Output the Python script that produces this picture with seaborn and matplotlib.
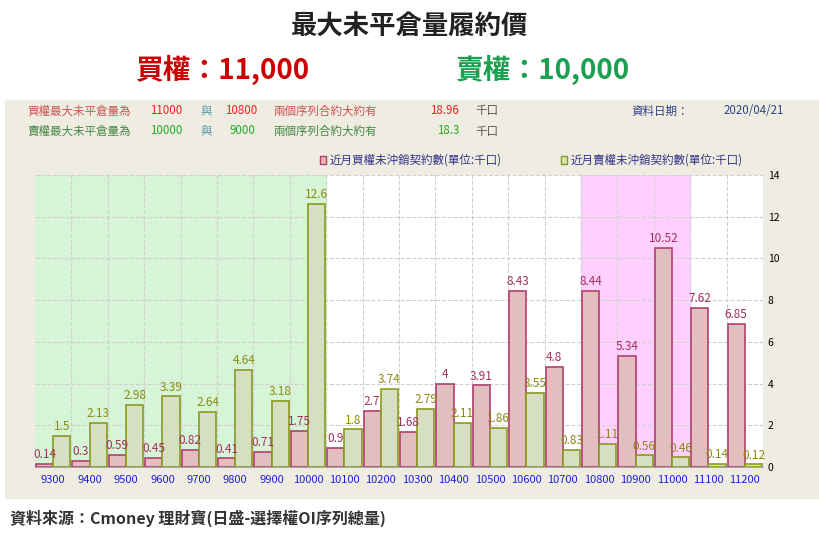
import matplotlib
matplotlib.use("Agg")
import matplotlib.pyplot as plt
import matplotlib.patches as mpatches
import seaborn as sns
import pandas as pd
import numpy as np

plt.rcParams["font.family"] = ["Noto Sans CJK JP", "DejaVu Sans"]

strikes = ["9300","9400","9500","9600","9700","9800","9900","10000","10100","10200",
           "10300","10400","10500","10600","10700","10800","10900","11000","11100","11200"]
calls = [0.14,0.3,0.59,0.45,0.82,0.41,0.71,1.75,0.9,2.7,1.68,4,3.91,8.43,4.8,8.44,5.34,10.52,7.62,6.85]
puts = [1.5,2.13,2.98,3.39,2.64,4.64,3.18,12.6,1.8,3.74,2.79,2.11,1.86,3.55,0.83,1.11,0.56,0.46,0.14,0.12]
call_lbl = "近月買權未沖銷契約數(單位:千口)"
put_lbl = "近月賣權未沖銷契約數(單位:千口)"

df = pd.DataFrame({"strike": strikes * 2, "val": calls + puts,
                   "kind": [call_lbl] * len(strikes) + [put_lbl] * len(strikes)})

fig = plt.figure(figsize=(8.2, 5.41), dpi=100)
bg = mpatches.Rectangle((5/820, 1-498/541), 815/820, 398/541,
                        transform=fig.transFigure, color="#efece2", zorder=-10)
fig.patches.append(bg)
ax = fig.add_axes([35/820, 1-467/541, 728/820, 292/541])
ax.set_facecolor("white")
ax.axvspan(-0.5, 7.5, color="#d6f5d6", zorder=0)
ax.axvspan(14.5, 17.5, color="#ffd0ff", zorder=0)
sns.barplot(data=df, x="strike", y="val", hue="kind", ax=ax,
            palette=["#e8b8b8", "#d8e4bc"], width=0.95, zorder=3, legend=False)
for i, c in enumerate(ax.containers):
    ec = "#b04070" if i == 0 else "#8a9a20"
    for p in c:
        p.set_edgecolor(ec); p.set_linewidth(1.2)
    ax.bar_label(c, labels=[f"{v:g}" for v in (calls if i == 0 else puts)],
                 color="#a03060" if i == 0 else "#8a8a10", fontsize=8.5, padding=2)
ax.set_ylim(0, 14)
ax.set_xlim(-0.5, 19.5)
ax.yaxis.tick_right()
ax.set_yticks(range(0, 15, 2))
ax.tick_params(axis="y", labelsize=7.5, length=0)
ax.tick_params(axis="x", labelsize=8, colors="#2020e0", length=0, pad=6)
ax.set_xlabel(""); ax.set_ylabel("")
ax.grid(axis="y", ls="--", color="#d0d0d0", zorder=1)
for x in np.arange(0.5, 19.5, 1):
    ax.axvline(x, ls="--", color="#d0d0d0", lw=0.8, zorder=1)
for s in ax.spines.values():
    s.set_visible(False)
ax.spines["bottom"].set_visible(True); ax.spines["bottom"].set_color("#aaaaaa")

fig.text(0.5, 1-27/541, "最大未平倉量履約價", ha="center", va="center", fontsize=19, weight="bold", color="#222222")
fig.text(0.165, 1-70/541, "買權：11,000", ha="left", va="center", fontsize=20, weight="bold", color="#cc0000")
fig.text(0.555, 1-70/541, "賣權：10,000", ha="left", va="center", fontsize=20, weight="bold", color="#1aa050")

y1, y2 = 1-111/541, 1-131/541
fs = 8.3
fig.text(0.033, y1, "買權最大未平倉量為", color="#cc5555", fontsize=fs, va="center")
fig.text(0.183, y1, "11000", color="#ee2222", fontsize=fs, va="center")
fig.text(0.245, y1, "與", color="#5599aa", fontsize=fs, va="center")
fig.text(0.274, y1, "10800", color="#ee2222", fontsize=fs, va="center")
fig.text(0.333, y1, "兩個序列合約大約有", color="#cc5555", fontsize=fs, va="center")
fig.text(0.524, y1, "18.96", color="#ee2222", fontsize=fs, va="center")
fig.text(0.58, y1, "千口", color="#555555", fontsize=fs, va="center")
fig.text(0.77, y1, "資料日期：", color="#334488", fontsize=fs, va="center")
fig.text(0.882, y1, "2020/04/21", color="#334488", fontsize=fs, va="center")
fig.text(0.033, y2, "賣權最大未平倉量為", color="#448844", fontsize=fs, va="center")
fig.text(0.183, y2, "10000", color="#22aa22", fontsize=fs, va="center")
fig.text(0.245, y2, "與", color="#5599aa", fontsize=fs, va="center")
fig.text(0.28, y2, "9000", color="#22aa22", fontsize=fs, va="center")
fig.text(0.333, y2, "兩個序列合約大約有", color="#448844", fontsize=fs, va="center")
fig.text(0.533, y2, "18.3", color="#22aa22", fontsize=fs, va="center")
fig.text(0.58, y2, "千口", color="#555555", fontsize=fs, va="center")

ly = 1-160/541
for x0, lbl, fc, ec in [(0.39, call_lbl, "#e8b8b8", "#b04070"), (0.684, put_lbl, "#d8e4bc", "#8a9a20")]:
    fig.patches.append(mpatches.Rectangle((x0, ly-0.007), 0.008, 0.014, transform=fig.transFigure,
                       facecolor=fc, edgecolor=ec, lw=1))
    fig.text(x0+0.012, ly, lbl, color="#333388", fontsize=8.3, va="center")

fig.text(0.012, 1-518/541, "資料來源：Cmoney 理財寶(日盛-選擇權OI序列總量)", fontsize=11.5, weight="bold",
         color="#333333", va="center")
fig.savefig("out.png", dpi=100)
